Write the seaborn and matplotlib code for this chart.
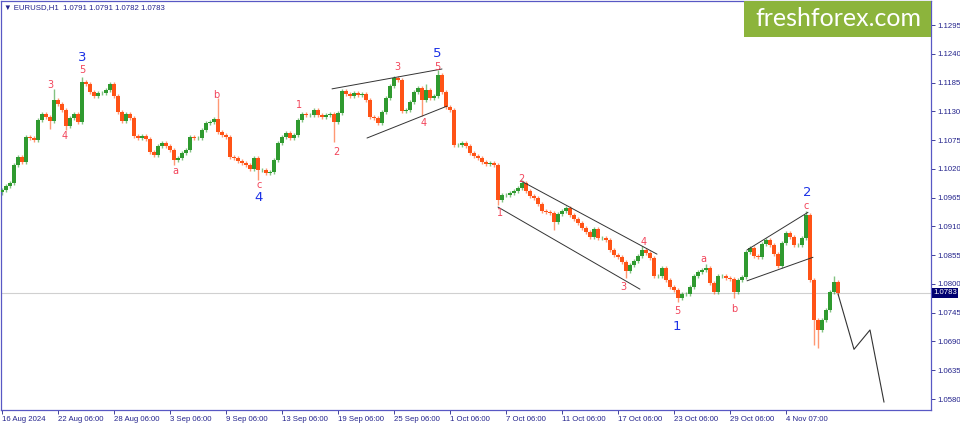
import numpy as np
import pandas as pd
import seaborn as sns
import matplotlib.pyplot as plt
from matplotlib.patches import Rectangle

# EURUSD H1, one candle here ~ 7 hourly bars
closes = [
    1.0980, 1.0987, 1.0993, 1.1027, 1.1043, 1.1033, 1.1081, 1.1079, 1.1075, 1.1113,
    1.1125, 1.1119, 1.1111, 1.1152, 1.1144, 1.1132, 1.1102, 1.1117, 1.1125, 1.1110,
    1.1186, 1.1182, 1.1167, 1.1159, 1.1165, 1.1165, 1.1171, 1.1182, 1.1159, 1.1129,
    1.1111, 1.1125, 1.1117, 1.1083, 1.1079, 1.1083, 1.1077, 1.1052, 1.1046, 1.1064,
    1.1069, 1.1064, 1.1056, 1.1037, 1.1041, 1.1050, 1.1056, 1.1081, 1.1079, 1.1079,
    1.1094, 1.1108, 1.1110, 1.1115, 1.1090, 1.1085, 1.1081, 1.1043, 1.1041, 1.1035,
    1.1031, 1.1027, 1.1020, 1.1041, 1.1018, 1.1018, 1.1012, 1.1014, 1.1037, 1.1069,
    1.1081, 1.1089, 1.1079, 1.1085, 1.1113, 1.1125, 1.1123, 1.1123, 1.1132, 1.1123,
    1.1119, 1.1123, 1.1125, 1.1110, 1.1127, 1.1169, 1.1163, 1.1159, 1.1165, 1.1161,
    1.1163, 1.1152, 1.1119, 1.1117, 1.1108, 1.1129, 1.1155, 1.1178, 1.1194, 1.1190,
    1.1131, 1.1132, 1.1148, 1.1167, 1.1175, 1.1152, 1.1171, 1.1155, 1.1159, 1.1199,
    1.1167, 1.1138, 1.1132, 1.1066, 1.1066, 1.1069, 1.1064, 1.1050, 1.1045, 1.1041,
    1.1033, 1.1029, 1.1031, 1.1027, 1.0960, 1.0970, 1.0970, 1.0974, 1.0978, 1.0983,
    1.0993, 1.0978, 1.0968, 1.0964, 1.0953, 1.0939, 1.0937, 1.0936, 1.0918, 1.0934,
    1.0939, 1.0945, 1.0932, 1.0924, 1.0916, 1.0907, 1.0899, 1.0890, 1.0905, 1.0888,
    1.0888, 1.0884, 1.0865, 1.0855, 1.0851, 1.0842, 1.0825, 1.0836, 1.0844, 1.0853,
    1.0865, 1.0859, 1.0850, 1.0815, 1.0815, 1.0830, 1.0807, 1.0794, 1.0788, 1.0773,
    1.0781, 1.0781, 1.0794, 1.0815, 1.0823, 1.0827, 1.0830, 1.0802, 1.0785, 1.0815,
    1.0815, 1.0811, 1.0809, 1.0785, 1.0807, 1.0813, 1.0861, 1.0869, 1.0853, 1.0851,
    1.0876, 1.0884, 1.0874, 1.0857, 1.0834, 1.0878, 1.0897, 1.0890, 1.0874, 1.0874,
    1.0888, 1.0932, 1.0807, 1.0731, 1.0712, 1.0731, 1.0750, 1.0785, 1.0804, 1.0783,
]
first_open = 1.0975

# long wicks that stand out
spike_highs = [(13, 1.1173), (20, 1.1196), (54, 1.1155), (99, 1.1198), (106, 1.1182),
               (109, 1.1209), (130, 1.0999), (160, 1.0872), (176, 1.0838),
               (201, 1.0939), (208, 1.0815)]
spike_lows = [(12, 1.1096), (16, 1.1094), (43, 1.1027), (64, 1.0999), (83, 1.1071),
              (105, 1.1121), (124, 1.0951), (138, 1.0903), (156, 1.0811),
              (169, 1.0765), (183, 1.0773), (203, 1.0683), (204, 1.0677)]

date_labels = ["16 Aug 2024", "22 Aug 06:00", "28 Aug 06:00", "3 Sep 06:00",
               "9 Sep 06:00", "13 Sep 06:00", "19 Sep 06:00", "25 Sep 06:00",
               "1 Oct 06:00", "7 Oct 06:00", "11 Oct 06:00", "17 Oct 06:00",
               "23 Oct 06:00", "29 Oct 06:00", "4 Nov 07:00"]
price_ticks = [1.0580, 1.0635, 1.0690, 1.0745, 1.0800, 1.0855, 1.0910, 1.0965,
               1.1020, 1.1075, 1.1130, 1.1185, 1.1240, 1.1295]
last_price = 1.0783

forecast_idx = [209, 213, 217, 220.5]
forecast_px = [1.0781, 1.0675, 1.0712, 1.0574]

# wedge / channel lines: (idx0, px0, idx1, px1)
pattern_lines = [
    (82.5, 1.1173, 110.0, 1.1211),
    (91.25, 1.1079, 111.25, 1.1140),
    (129.75, 1.0997, 163.75, 1.0857),
    (124.0, 1.0947, 159.5, 1.0790),
    (186.25, 1.0865, 201.5, 1.0937),
    (186.25, 1.0806, 202.75, 1.0851),
]

# wave marks: text, idx, price, kind
wave_labels = [
    ("3", 12, 1.1180, "minor"), ("4", 15.75, 1.1083, "minor"), ("5", 20, 1.1209, "minor"),
    ("3", 20, 1.1233, "major"),
    ("a", 43.25, 1.1016, "minor"), ("b", 53.5, 1.1161, "minor"), ("c", 64.25, 1.0989, "minor"),
    ("4", 64.25, 1.0966, "major"),
    ("1", 74.25, 1.1142, "minor"), ("2", 83.5, 1.1052, "minor"), ("3", 98.75, 1.1215, "minor"),
    ("4", 105.5, 1.1108, "minor"), ("5", 108.75, 1.1215, "minor"), ("5", 108.75, 1.1240, "major"),
    ("1", 124.5, 1.0936, "minor"), ("2", 129.75, 1.1001, "minor"), ("3", 155.25, 1.0794, "minor"),
    ("4", 160.5, 1.0880, "minor"), ("5", 168.75, 1.0748, "minor"), ("1", 168.75, 1.0719, "major"),
    ("a", 175.25, 1.0848, "minor"), ("b", 183, 1.0752, "minor"), ("c", 201, 1.0949, "minor"),
    ("2", 201.25, 1.0975, "major"),
]

# ---------------------------------------------------------------------------
df = pd.DataFrame({"close": closes})
df["idx"] = np.arange(len(df))
df["open"] = df["close"].shift(1).fillna(first_open)
df["high"] = df[["open", "close"]].max(axis=1) + 0.0004
df["low"] = df[["open", "close"]].min(axis=1) - 0.0004
for i, v in spike_highs:
    df.loc[i, "high"] = v
for i, v in spike_lows:
    df.loc[i, "low"] = v
df["up"] = df["close"] >= df["open"]

sns.set_theme(style="white")
plt.rcParams["font.family"] = ["Liberation Sans", "DejaVu Sans"]

NAVY = "#23238c"
UP = "#2f9a2f"
DOWN = "#ff5316"

fig = plt.figure(figsize=(9.6, 4.26), dpi=100)
ax = fig.add_axes([1 / 960, 16 / 426, 930 / 960, 409 / 426])

# bid line
ax.axhline(last_price, color="#d0d0d0", lw=0.8, zorder=1)

cols = np.where(df["up"], UP, DOWN)
ax.vlines(df["idx"], df["low"], df["high"], colors=cols, lw=1.0, alpha=0.6, zorder=2)
body = (df["close"] - df["open"]).abs().clip(lower=0.00006)
ax.bar(df["idx"], body, bottom=df[["open", "close"]].min(axis=1), width=0.8,
       color=cols, linewidth=0, zorder=3)

for x0, y0, x1, y1 in pattern_lines:
    sns.lineplot(x=[x0, x1], y=[y0, y1], color="#333333", lw=0.7, ax=ax,
                 estimator=None, sort=False, zorder=4)
sns.lineplot(x=forecast_idx, y=forecast_px, color="#333333", lw=0.8, ax=ax,
             estimator=None, sort=False, zorder=4)

for txt, xi, yp, kind in wave_labels:
    if kind == "major":
        ax.text(xi, yp, txt, color="#1c32e6", fontsize=9.5, ha="center", va="center",
                family=["DejaVu Sans"], zorder=5)
    else:
        ax.text(xi, yp, txt, color="#f2445a", fontsize=7, ha="center", va="center",
                family=["DejaVu Sans"], zorder=5)

ax.set_xlim(-0.25, 232.25)
ax.set_ylim(1.0559, 1.1341)

ax.set_xticks(np.arange(0, 14 * len(date_labels), 14))
ax.set_xticklabels(date_labels, ha="left", fontsize=5.6, color=NAVY)
ax.yaxis.tick_right()
ax.set_yticks(price_ticks)
ax.set_yticklabels([f"{p:.4f}" for p in price_ticks], fontsize=5.6, color=NAVY)
ax.tick_params(axis="both", length=3, width=0.6, color=NAVY, pad=1.5)
ax.tick_params(axis="x", bottom=True, direction="out")
ax.tick_params(axis="y", right=True, direction="out")
ax.set_xlabel("")
ax.set_ylabel("")
for s in ax.spines.values():
    s.set_color("#5858c4")
    s.set_linewidth(0.9)

# bid price tag on the axis
ax.text(1.002, last_price, f"{last_price:.4f}", transform=ax.get_yaxis_transform(),
        ha="left", va="center", fontsize=5.6, color="white",
        bbox=dict(boxstyle="square,pad=0.15", fc="#000070", ec="none"), zorder=6,
        clip_on=False)

# header
fig.text(4 / 960, 1 - 8 / 426, "\u25bc EURUSD,H1  1.0791 1.0791 1.0782 1.0783",
         fontsize=5.6, color=NAVY, va="center", ha="left")

# logo
fig.patches.append(Rectangle((744 / 960, 1 - 37 / 426), 187 / 960, 36 / 426,
                             transform=fig.transFigure, fc="#8cb43c", ec="none"))
fig.text(838 / 960, 1 - 19 / 426, "freshforex.com", fontsize=18, color="white",
         ha="center", va="center", family=["Lato", "DejaVu Sans"])

fig.savefig("out.png", dpi=100)
